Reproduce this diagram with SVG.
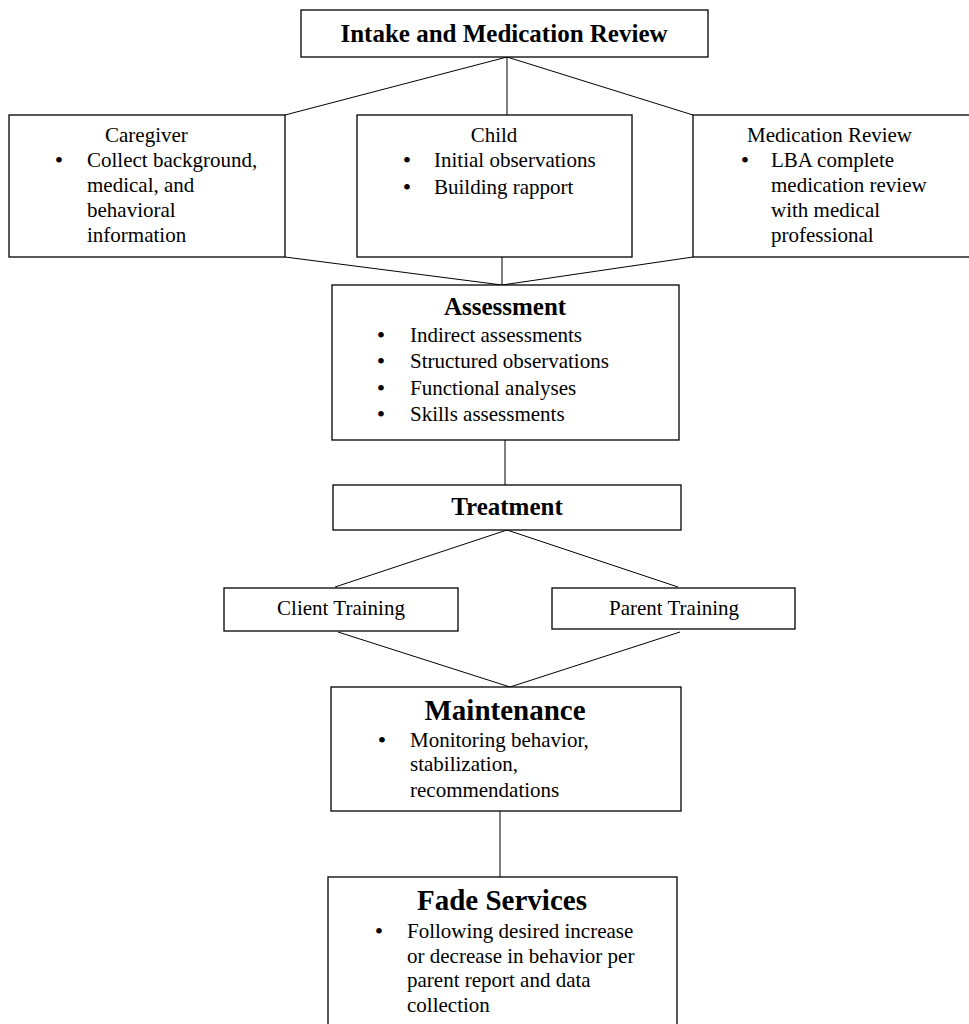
<svg xmlns="http://www.w3.org/2000/svg" width="969" height="1024" viewBox="0 0 969 1024">
<style>
.box{fill:#fff;stroke:#000;stroke-width:1.3}
.ln{stroke:#000;stroke-width:1;fill:none}
text{font-family:"Liberation Serif","Times New Roman",serif;fill:#000}
.t{font-size:21px}
.b{font-size:24px;text-anchor:middle}
.h{font-size:25px;font-weight:bold;text-anchor:middle}
.hb{font-size:29px;font-weight:bold;text-anchor:middle}
.c{text-anchor:middle}
</style>
<rect width="969" height="1024" fill="#fff"/>
<g id="connectors">
<line class="ln" x1="507" y1="57" x2="285" y2="115"/>
<line class="ln" x1="507" y1="57" x2="507" y2="115"/>
<line class="ln" x1="507" y1="57" x2="693" y2="115"/>
<line class="ln" x1="285" y1="257" x2="502" y2="285"/>
<line class="ln" x1="502" y1="257" x2="502" y2="285"/>
<line class="ln" x1="693" y1="257" x2="502" y2="285"/>
<line class="ln" x1="505" y1="440" x2="505" y2="485"/>
<line class="ln" x1="507" y1="530" x2="335" y2="587"/>
<line class="ln" x1="507" y1="530" x2="678" y2="587"/>
<line class="ln" x1="338" y1="632" x2="510" y2="687"/>
<line class="ln" x1="680" y1="632" x2="510" y2="687"/>
<line class="ln" x1="500" y1="811" x2="500" y2="877"/>
</g>
<g id="intake">
<rect class="box" x="301" y="10" width="407" height="47"/>
<text class="h" x="504" y="42">Intake and Medication Review</text>
</g>
<g id="caregiver">
<rect class="box" x="9" y="115" width="276" height="142"/>
<text class="t" x="105" y="142">Caregiver</text>
<text class="b" x="59" y="168">•</text>
<text class="t" x="87" y="167">Collect background,</text>
<text class="t" x="87" y="192">medical, and</text>
<text class="t" x="87" y="217">behavioral</text>
<text class="t" x="87" y="242">information</text>
</g>
<g id="child">
<rect class="box" x="357" y="115" width="275" height="142"/>
<text class="t c" x="494" y="142">Child</text>
<text class="b" x="407" y="168">•</text>
<text class="t" x="434" y="167">Initial observations</text>
<text class="b" x="407" y="195">•</text>
<text class="t" x="434" y="194">Building rapport</text>
</g>
<g id="medication">
<rect class="box" x="693" y="115" width="290" height="142"/>
<text class="t" x="747" y="142">Medication Review</text>
<text class="b" x="745" y="168">•</text>
<text class="t" x="771" y="167">LBA complete</text>
<text class="t" x="771" y="192">medication review</text>
<text class="t" x="771" y="217">with medical</text>
<text class="t" x="771" y="242">professional</text>
</g>
<g id="assessment">
<rect class="box" x="332" y="285" width="347" height="155"/>
<text class="h" x="505" y="315">Assessment</text>
<text class="b" x="381" y="343">•</text>
<text class="t" x="410" y="342">Indirect assessments</text>
<text class="b" x="381" y="369">•</text>
<text class="t" x="410" y="368">Structured observations</text>
<text class="b" x="381" y="396">•</text>
<text class="t" x="410" y="395">Functional analyses</text>
<text class="b" x="381" y="422">•</text>
<text class="t" x="410" y="421">Skills assessments</text>
</g>
<g id="treatment">
<rect class="box" x="333" y="485" width="348" height="45"/>
<text class="h" x="507" y="515">Treatment</text>
</g>
<g id="client">
<rect class="box" x="224" y="588" width="234" height="43"/>
<text class="t c" x="341" y="615">Client Training</text>
</g>
<g id="parent">
<rect class="box" x="552" y="588" width="243" height="41"/>
<text class="t c" x="674" y="615">Parent Training</text>
</g>
<g id="maintenance">
<rect class="box" x="331" y="687" width="350" height="124"/>
<text class="hb" x="505" y="720">Maintenance</text>
<text class="b" x="382" y="748">•</text>
<text class="t" x="410" y="747">Monitoring behavior,</text>
<text class="t" x="410" y="771">stabilization,</text>
<text class="t" x="410" y="797">recommendations</text>
</g>
<g id="fade">
<rect class="box" x="328" y="877" width="349" height="160"/>
<text class="hb" x="502" y="910">Fade Services</text>
<text class="b" x="379" y="939">•</text>
<text class="t" x="407" y="938">Following desired increase</text>
<text class="t" x="407" y="963">or decrease in behavior per</text>
<text class="t" x="407" y="987">parent report and data</text>
<text class="t" x="407" y="1012">collection</text>
</g>
</svg>
